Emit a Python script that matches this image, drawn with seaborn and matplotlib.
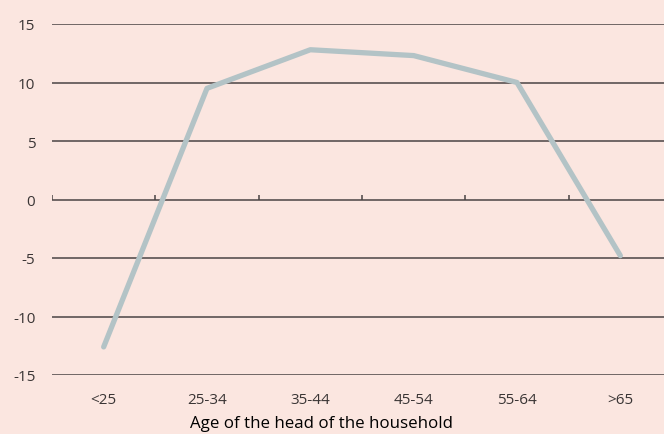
import numpy as np
import pandas as pd
import seaborn as sns
import matplotlib.pyplot as plt

age_groups = ['<25', '25-34', '35-44', '45-54', '55-64', '>65']
values = [-12.6, 9.5, 12.8, 12.3, 10.0, -4.8]

bg = '#fbe6e0'
sns.set_theme(style='white')
plt.rcParams['font.family'] = ['Open Sans', 'DejaVu Sans']
plt.rcParams['axes.unicode_minus'] = False

fig = plt.figure(figsize=(6.64, 4.35), dpi=100, facecolor=bg)
ax = fig.add_axes([52 / 664, 1 - 376 / 435, 620 / 664, 351 / 435])
ax.set_facecolor(bg)

df = pd.DataFrame({'age': age_groups, 'value': values})
sns.lineplot(data=df, x='age', y='value', sort=False, color='#b3c3c6',
             linewidth=3.8, ax=ax, zorder=3, solid_capstyle='round')

ax.set_ylim(-15, 15)
ax.set_xlim(-0.5, 5.5)
ax.set_yticks(np.arange(-15, 16, 5))
ax.yaxis.grid(True, color='#4a4444', linewidth=1.1)
ax.set_axisbelow(True)
for s in ax.spines.values():
    s.set_visible(False)

# small ticks on the zero line between categories
ax.vlines(np.arange(len(age_groups)) - 0.5, 0, 0.4, color='#4a4444', linewidth=1.1)

ax.tick_params(axis='both', length=0, labelsize=11, labelcolor='#3a3535')
ax.tick_params(axis='y', pad=12)
ax.tick_params(axis='x', pad=12)
ax.set_ylabel('')
ax.set_xlabel('Age of the head of the household', fontsize=12.2, color='#000000')
ax.xaxis.set_label_coords(0.434, -0.115)

fig.savefig('out.png', dpi=100, facecolor=bg)
